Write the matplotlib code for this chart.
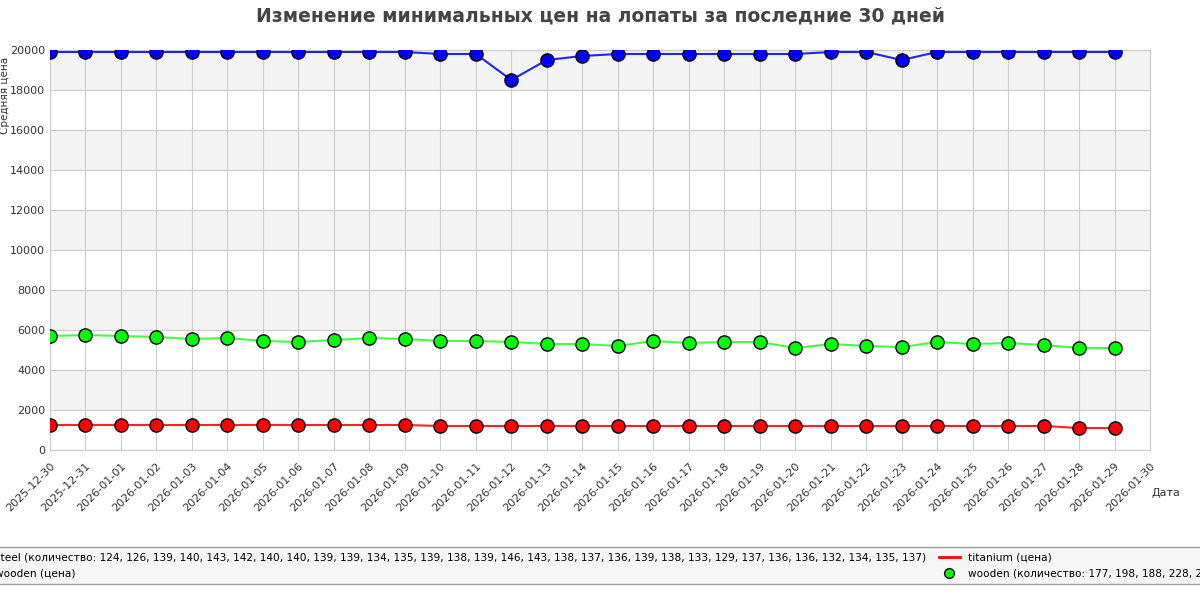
import matplotlib
matplotlib.use('Agg')
import matplotlib.pyplot as plt
from matplotlib.lines import Line2D
import pandas as pd

dates = pd.date_range('2025-12-30', '2026-01-29')
tick_dates = pd.date_range('2025-12-30', '2026-01-30')

steel_price = [19900] * 11 + [19800, 19800, 18500, 19500, 19700, 19800, 19800, 19800, 19800, 19800,
                              19800, 19900, 19900, 19500, 19900, 19900, 19900, 19900, 19900, 19900]
wooden_price = [5700, 5750, 5700, 5650, 5550, 5600, 5450, 5400, 5500, 5600, 5550, 5450, 5450, 5400, 5300, 5300,
                5200, 5450, 5350, 5400, 5400, 5100, 5300, 5200, 5150, 5400, 5300, 5350, 5250, 5100, 5100]
titanium_price = [1250] * 11 + [1200] * 18 + [1100, 1100]
steel_count = [124, 126, 139, 140, 143, 142, 140, 140, 139, 139, 134, 135, 139, 138, 139, 146, 143, 138, 137,
               136, 139, 138, 133, 129, 137, 136, 136, 132, 134, 135, 137]

fig = plt.figure(figsize=(12, 6), dpi=100)
ax = fig.add_axes([50 / 1200, 150 / 600, 1100 / 1200, 400 / 600])

for lo in range(2000, 20000, 4000):
    ax.axhspan(lo, lo + 2000, color='#f4f4f4', zorder=0)
ax.grid(True, color='#cccccc', lw=0.8, zorder=1)
ax.set_axisbelow(True)

mk = dict(marker='o', ms=9.5, mec='black', mew=1, zorder=3)
ax.plot(dates, steel_price, color='#2222ff', lw=1.5, mfc='#0000ff', **mk)
ax.plot(dates, wooden_price, color='#44ff44', lw=1.5, mfc='#00ff00', **mk)
ax.plot(dates, titanium_price, color='#ff2222', lw=1.5, mfc='#ff0000', **mk)

ax.set_xlim(tick_dates[0], tick_dates[-1])
ax.set_ylim(0, 20000)
ax.set_yticks(range(0, 20001, 2000))
ax.set_xticks(tick_dates)
ax.set_xticklabels([d.strftime('%Y-%m-%d') for d in tick_dates], rotation=45, ha='right',
                   rotation_mode='anchor', fontsize=8, color='#333333')
ax.tick_params(axis='y', labelsize=8, colors='#333333', length=0)
ax.tick_params(axis='x', length=0, pad=8, colors='#333333')
for s in ax.spines.values():
    s.set_color('#cccccc')

fig.text(1151 / 1200, 1 - 493 / 600, 'Дата', fontsize=8, color='#333333', ha='left', va='center')
fig.text(5 / 1200, 1 - 95 / 600, 'Средняя цена', fontsize=7.5, color='#333333', rotation=90,
         ha='center', va='center')
fig.suptitle('Изменение минимальных цен на лопаты за последние 30 дней', y=0.99,
             fontsize=13.5, fontweight='bold', color='#444444')

handles = [
    Line2D([], [], ls='none', marker='o', color='#0000ff', mec='black', ms=7),
    Line2D([], [], color='#00ff00', lw=2),
    Line2D([], [], color='#ff0000', lw=2),
    Line2D([], [], ls='none', marker='o', color='#00ff00', mec='black', ms=7),
]
labels = [
    'steel (количество: ' + ', '.join(str(c) for c in steel_count) + ')',
    'wooden (цена)',
    'titanium (цена)',
    'wooden (количество: 177, 198, 188, 228, 231, 225, 230, 219, 214, 220, 211, 208)',
]
leg = fig.legend(handles, labels, ncol=2, loc='upper left', bbox_to_anchor=(-45 / 1200, 1 - 542 / 600),
                 fontsize=7.6, frameon=True, fancybox=False, facecolor='#f4f4f4', edgecolor='#888888',
                 borderpad=0.5, columnspacing=1.2, handlelength=2, labelspacing=0.6)

fig.savefig('out.png', dpi=100)
